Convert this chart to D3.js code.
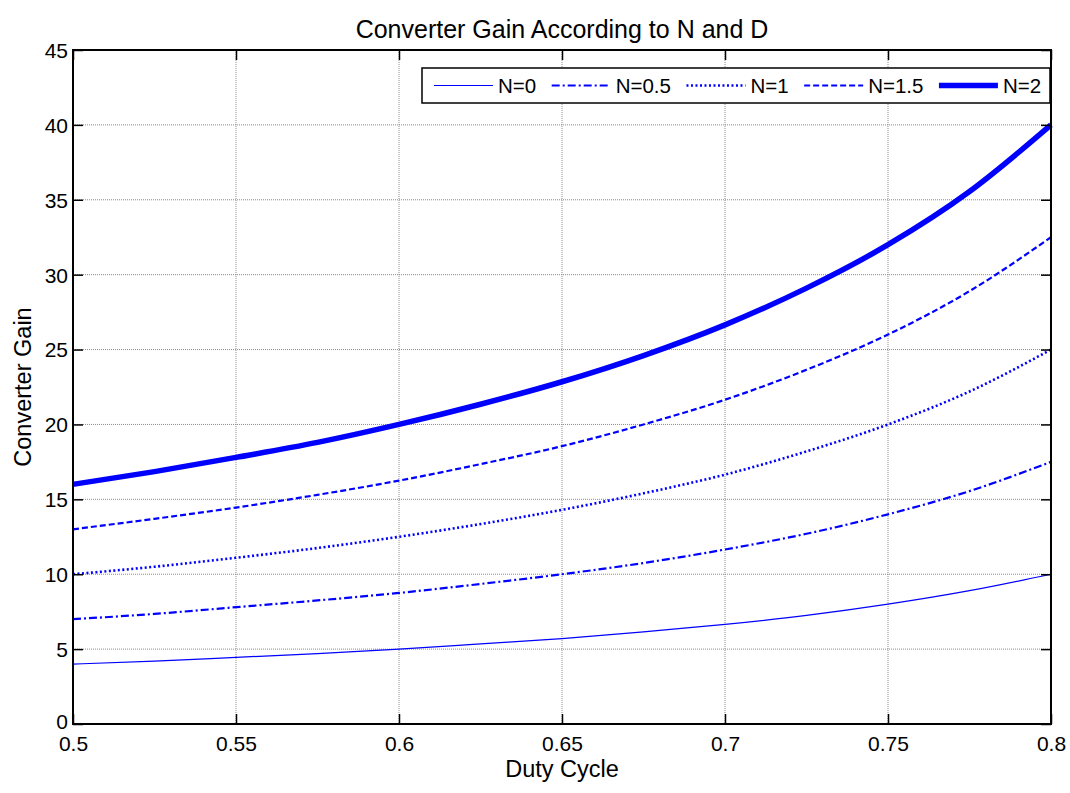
<!DOCTYPE html>
<html>
<head>
<meta charset="utf-8">
<script src="https://cdn.jsdelivr.net/npm/d3@7"></script>
<style>
  html, body { margin: 0; padding: 0; background: #fff; }
  svg { display: block; font-family: "Liberation Sans", Arial, sans-serif; }
</style>
</head>
<body>
<svg id="chart" width="1070" height="793"></svg>
<script>
// ---- data ----
const dutyCycle = [0.5, 0.525, 0.55, 0.575, 0.6, 0.625, 0.65, 0.675, 0.7, 0.725, 0.75, 0.775, 0.8];
const gainN0   = [4, 4.2, 4.45, 4.7, 5, 5.35, 5.7, 6.15, 6.65, 7.25, 8, 8.9, 10];
const gainN05  = [7, 7.35, 7.8, 8.25, 8.75, 9.35, 10, 10.75, 11.65, 12.7, 14, 15.55, 17.5];
const gainN1   = [10, 10.5, 11.1, 11.75, 12.5, 13.35, 14.3, 15.4, 16.65, 18.2, 20, 22.2, 25];
const gainN15  = [13, 13.7, 14.45, 15.3, 16.25, 17.35, 18.55, 20, 21.65, 23.65, 26, 28.9, 32.5];
const gainN2   = [16, 16.85, 17.8, 18.8, 20, 21.35, 22.85, 24.6, 26.65, 29.1, 32, 35.55, 40];
const seriesNames = ["N=0", "N=0.5", "N=1", "N=1.5", "N=2"];
const xTicks = [0.5, 0.55, 0.6, 0.65, 0.7, 0.75, 0.8];
const yTicks = [0, 5, 10, 15, 20, 25, 30, 35, 40, 45];

const seriesValues = [gainN0, gainN05, gainN1, gainN15, gainN2];
const styles = [
  { w: 1.2, dash: null },
  { w: 2.2, dash: "8,3,2,3" },
  { w: 2.6, dash: "2,2.5" },
  { w: 2.2, dash: "6,3" },
  { w: 5.5, dash: null }
];

const svg = d3.select("#chart");
const L = 73, R = 1051, T = 50, B = 724;
const x = d3.scaleLinear().domain([0.5, 0.8]).range([L, R]);
const y = d3.scaleLinear().domain([0, 45]).range([B, T]);
const fmt = d => String(d);

// grid
const grid = svg.append("g");
grid.selectAll(".gx").data(xTicks.slice(1, -1)).enter().append("line")
  .attr("x1", d => x(d)).attr("x2", d => x(d)).attr("y1", T).attr("y2", B)
  .attr("stroke", "#8c8c8c").attr("stroke-width", 1).attr("stroke-dasharray", "1,1");
grid.selectAll(".gy").data(yTicks.slice(1, -1)).enter().append("line")
  .attr("y1", d => y(d)).attr("y2", d => y(d)).attr("x1", L).attr("x2", R)
  .attr("stroke", "#8c8c8c").attr("stroke-width", 1).attr("stroke-dasharray", "1,1");

// curves
const line = d3.line().x(d => x(d[0])).y(d => y(d[1])).curve(d3.curveMonotoneX);
const curves = svg.append("g");
seriesValues.forEach((vals, i) => {
  const pts = dutyCycle.map((d, j) => [d, vals[j]]);
  curves.append("path").datum(pts)
    .attr("d", line).attr("fill", "none").attr("stroke", "#0000ff")
    .attr("stroke-width", styles[i].w)
    .attr("stroke-dasharray", styles[i].dash)
    .attr("stroke-linejoin", "round");
});

// axes (MATLAB box style, inward ticks)
const tickLen = 10;
const axB = svg.append("g").attr("transform", `translate(0,${B})`)
  .call(d3.axisBottom(x).tickValues(xTicks).tickFormat(fmt).tickSizeInner(-tickLen).tickSizeOuter(0).tickPadding(12));
const axT = svg.append("g").attr("transform", `translate(0,${T})`)
  .call(d3.axisTop(x).tickValues(xTicks).tickFormat("").tickSizeInner(-tickLen).tickSizeOuter(0));
const axL = svg.append("g").attr("transform", `translate(${L},0)`)
  .call(d3.axisLeft(y).tickValues(yTicks).tickFormat(fmt).tickSizeInner(-tickLen).tickSizeOuter(0).tickPadding(5));
const axR = svg.append("g").attr("transform", `translate(${R},0)`)
  .call(d3.axisRight(y).tickValues(yTicks).tickFormat("").tickSizeInner(-tickLen).tickSizeOuter(0));
[axB, axT, axL, axR].forEach(a => {
  a.select(".domain").remove();
  a.selectAll(".tick line").attr("stroke", "#000").attr("stroke-width", 1.5);
  a.selectAll("text").attr("fill", "#000").style("font-size", "21px")
    .style("font-family", '"Liberation Sans", Arial, sans-serif');
});
axB.selectAll("text").attr("dy", "0.71em").attr("y", 12);
axL.selectAll("text").attr("dy", "0.35em");
axL.selectAll(".tick").filter(d => d === 0).select("text").attr("dy", "0.2em");

svg.append("rect").attr("x", L).attr("y", T).attr("width", R - L).attr("height", B - T)
  .attr("fill", "none").attr("stroke", "#000").attr("stroke-width", 2);

// title and labels
svg.append("text").attr("x", (L + R) / 2).attr("y", 38).attr("text-anchor", "middle")
  .style("font-size", "25px").text("Converter Gain According to N and D");
svg.append("text").attr("x", (L + R) / 2).attr("y", 777).attr("text-anchor", "middle")
  .style("font-size", "23.5px").text("Duty Cycle");
svg.append("text").attr("transform", `translate(31,${(T + B) / 2}) rotate(-90)`)
  .attr("text-anchor", "middle").style("font-size", "23.5px").text("Converter Gain");

// legend
const lgX0 = 422, lgX1 = 1050, lgY0 = 68, lgY1 = 103;
const lg = svg.append("g");
lg.append("rect").attr("x", lgX0).attr("y", lgY0).attr("width", lgX1 - lgX0).attr("height", lgY1 - lgY0)
  .attr("fill", "#fff").attr("stroke", "#000").attr("stroke-width", 1.5);
const cy = (lgY0 + lgY1) / 2;
let cx = 434;
seriesNames.forEach((name, i) => {
  lg.append("line").attr("x1", cx).attr("x2", cx + 59).attr("y1", cy).attr("y2", cy)
    .attr("stroke", "#0000ff").attr("stroke-width", styles[i].w)
    .attr("stroke-dasharray", styles[i].dash);
  const t = lg.append("text").attr("x", cx + 64).attr("y", cy).attr("dy", "0.36em")
    .style("font-size", "20.5px").text(name);
  cx = cx + 64 + t.node().getComputedTextLength() + 15.5;
});
</script>
</body>
</html>
